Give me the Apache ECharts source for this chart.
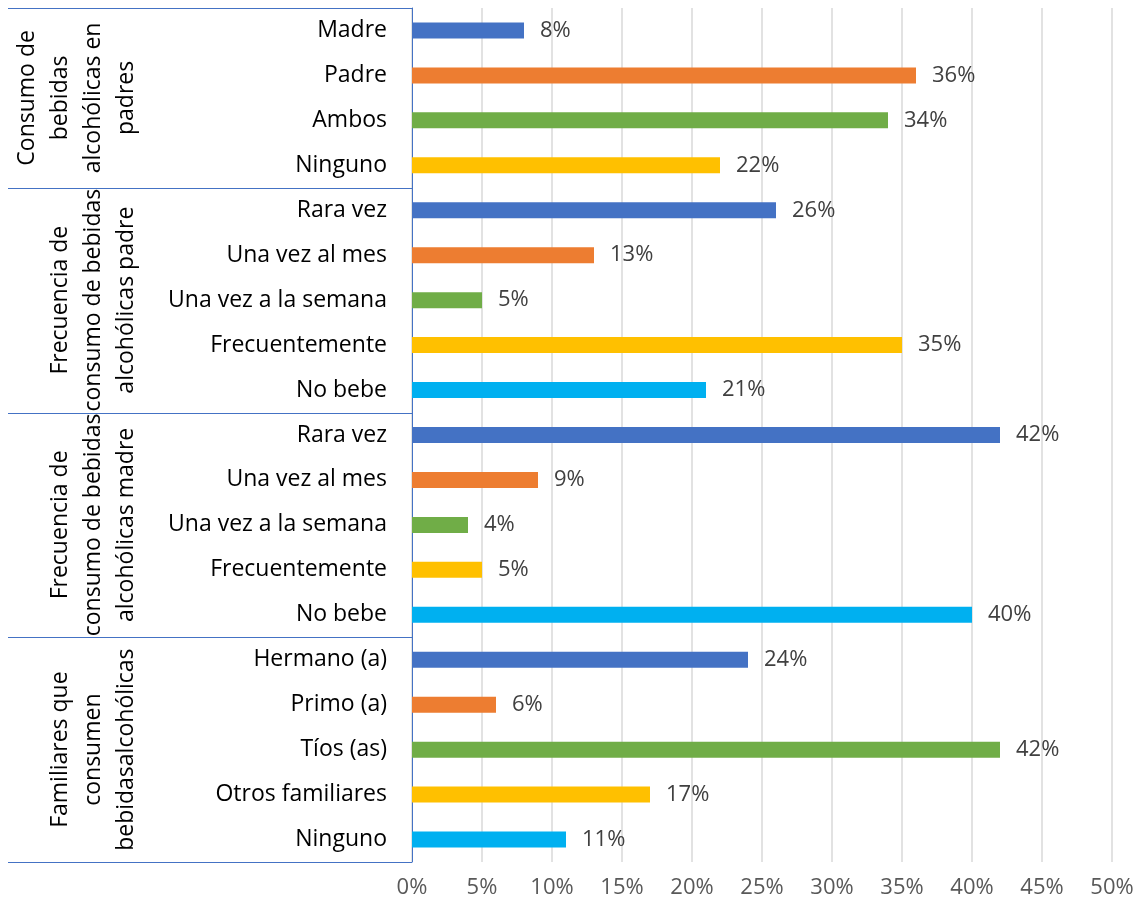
<!DOCTYPE html>
<html>
<head>
<meta charset="utf-8">
<title>Consumo de bebidas alcohólicas</title>
<script src="https://cdn.jsdelivr.net/npm/echarts@6/dist/echarts.min.js"></script>
<style>
    html, body { margin: 0; padding: 0; background: #fff; }
    #myChart { width: 1143px; height: 908px; }
</style>
</head>
<body>
<div id="myChart"></div>
<script>
    // datos de la figura
    const groupNames = [
        'Consumo de\nbebidas\nalcohólicas en\npadres',
        'Frecuencia de\nconsumo de bebidas\nalcohólicas padre',
        'Frecuencia de\nconsumo de bebidas\nalcohólicas madre',
        'Familiares que\nconsumen\nbebidasalcohólicas'
    ];
    const groupItems = [
        ['Madre', 'Padre', 'Ambos', 'Ninguno'],
        ['Rara vez', 'Una vez al mes', 'Una vez a la semana', 'Frecuentemente', 'No bebe'],
        ['Rara vez', 'Una vez al mes', 'Una vez a la semana', 'Frecuentemente', 'No bebe'],
        ['Hermano (a)', 'Primo (a)', 'Tíos (as)', 'Otros familiares', 'Ninguno']
    ];
    const groupValues = [
        [8, 36, 34, 22],
        [26, 13, 5, 35, 21],
        [42, 9, 4, 5, 40],
        [24, 6, 42, 17, 11]
    ];
    const itemColors = ['#4472C4', '#ED7D31', '#70AD47', '#FFC000', '#00B0F0'];
    const xMin = 0, xMax = 50, xStep = 5;

    const FONT = '"Open Sans"';
    const FONT_SIZE = 23;
    const lineColor = '#4472C4';

    // aplanar grupos para el eje de categorias
    let labels = [], keys = [], barData = [];
    groupItems.forEach((items, g) => {
        items.forEach((name, i) => {
            keys.push(g + '_' + i);
            labels.push(name);
            barData.push({
                value: groupValues[g][i],
                itemStyle: {color: itemColors[i]}
            });
        });
    });

    let myChart = echarts.init(document.getElementById('myChart'));
    myChart.setOption({
        animation: false,
        grid: {left: 412, right: 31, top: 8, bottom: 46, containLabel: false},
        xAxis: {
            type: 'value',
            min: xMin, max: xMax, interval: xStep,
            axisLine: {show: false},
            axisTick: {show: false},
            splitLine: {lineStyle: {color: '#d9d9d9', width: 1.5}},
            axisLabel: {
                formatter: '{value}%',
                color: '#595959', fontFamily: FONT, fontSize: 22, margin: 15
            }
        },
        yAxis: {
            type: 'category',
            inverse: true,
            data: keys,
            axisLine: {show: true, lineStyle: {color: lineColor, width: 1}},
            axisTick: {show: false},
            axisLabel: {
                formatter: (v, idx) => labels[idx],
                color: '#000', fontFamily: FONT, fontSize: FONT_SIZE, margin: 25
            }
        },
        series: [{
            type: 'bar',
            barWidth: 16,
            data: barData,
            label: {
                show: true, position: 'right', distance: 16,
                formatter: '{c}%',
                color: '#404040', fontFamily: FONT, fontSize: 22
            }
        }]
    });

    // separadores y titulos de grupo, ubicados con la escala del eje
    function drawGroups() {
        let py = i => myChart.convertToPixel({yAxisIndex: 0}, keys[i]);
        let step = py(1) - py(0);
        let elements = [];
        let start = 0;
        let bounds = [py(0) - step / 2];
        groupItems.forEach((items, g) => {
            let end = start + items.length - 1;
            let top = py(start) - step / 2;
            let bottom = py(end) + step / 2;
            bounds.push(bottom);
            elements.push({
                type: 'text',
                x: 143,
                y: (top + bottom) / 2,
                rotation: Math.PI / 2,
                style: {
                    text: groupNames[g],
                    fill: '#000',
                    font: FONT_SIZE + 'px ' + FONT,
                    align: 'center',
                    verticalAlign: 'bottom',
                    lineHeight: 33
                }
            });
            start = end + 1;
        });
        bounds.forEach(y => {
            elements.push({
                type: 'line',
                shape: {x1: 8, y1: Math.round(y) + 0.5, x2: 412, y2: Math.round(y) + 0.5},
                style: {stroke: lineColor, lineWidth: 1}
            });
        });
        myChart.setOption({graphic: elements});
    }
    drawGroups();
</script>
</body>
</html>
